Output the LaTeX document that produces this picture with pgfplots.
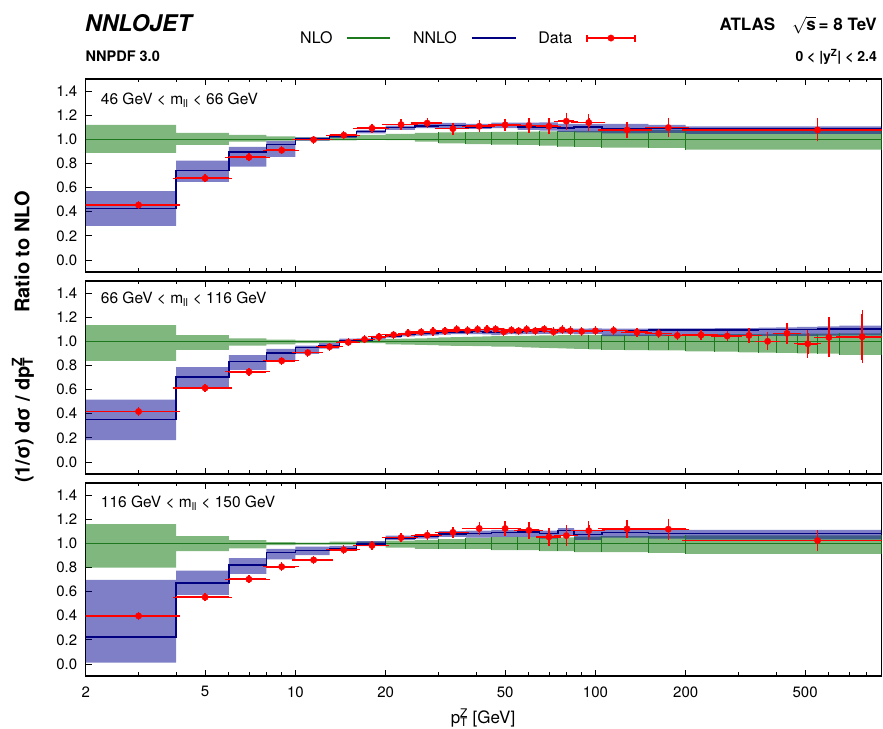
\documentclass[border=0pt]{standalone}
\usepackage{fontspec}
\setmainfont{TeX Gyre Heros}
\usepackage{pgfplots}
\pgfplotsset{compat=1.18}
\usepackage{pgfplotstable}
\usepgfplotslibrary{fillbetween}
\newcommand\fs[1]{\fontsize{#1bp}{#1bp}\selectfont}
\definecolor{nlobase}{RGB}{0,111,0}
\definecolor{nnlobase}{RGB}{0,0,145}
\definecolor{nloline}{RGB}{30,120,30}
\definecolor{nnloline}{RGB}{0,0,128}

\pgfplotstableread{
x nlolo nlohi nnlolo nnlohi nnlo
2 0.887 1.120 0.283 0.571 0.427
4 0.953 1.053 0.648 0.823 0.743
6 0.981 1.037 0.773 0.937 0.893
8 0.990 1.025 0.854 0.987 0.959
10 0.990 1.015 0.990 1.017 1.002
13 0.992 1.020 1.012 1.040 1.026
16 0.997 1.036 1.050 1.078 1.064
20 0.993 1.045 1.078 1.114 1.097
25 0.981 1.053 1.092 1.134 1.111
30 0.967 1.058 1.092 1.136 1.114
37 0.961 1.060 1.086 1.128 1.100
45 0.956 1.062 1.092 1.138 1.114
55 0.953 1.064 1.078 1.138 1.100
65 0.948 1.066 1.072 1.140 1.100
75 0.940 1.067 1.062 1.128 1.095
85 0.938 1.070 1.058 1.128 1.100
105 0.931 1.075 1.050 1.128 1.086
150 0.929 1.078 1.053 1.120 1.092
200 0.915 1.085 1.045 1.108 1.086
900 0.915 1.085 1.045 1.108 1.086
}\topbands
\pgfplotstableread{
x ex y ey
3 1 0.455 0.006
5 1 0.677 0.005
7 1 0.851 0.005
9 1 0.909 0.005
11.5 1.5 0.997 0.005
14.5 1.5 1.034 0.006
18 2 1.092 0.008
22.5 2.5 1.122 0.015
27.5 2.5 1.134 0.012
33.5 3.5 1.088 0.020
41 4 1.108 0.020
50 5 1.120 0.022
60 5 1.115 0.033
70 5 1.108 0.039
80 5 1.150 0.042
95 10 1.139 0.039
127.5 22.5 1.078 0.039
175 25 1.097 0.053
550 350 1.078 0.066
}\topdata

\pgfplotstableread{
x nlolo nlohi nnlolo nnlohi nnlo
2 0.838 1.134 0.181 0.517 0.352
4 0.928 1.052 0.613 0.786 0.706
6 0.964 1.025 0.764 0.885 0.832
8 0.975 1.013 0.846 0.937 0.901
10 0.985 1.008 0.895 0.964 0.947
12 0.988 1.008 0.940 0.985 0.967
14 0.990 1.010 0.992 1.022 1.008
16 0.988 1.012 0.995 1.025 1.010
18 0.985 1.015 1.015 1.045 1.030
20 0.975 1.020 1.030 1.060 1.045
22.5 0.973 1.022 1.040 1.070 1.055
25 0.970 1.025 1.048 1.080 1.065
27.5 0.968 1.028 1.050 1.085 1.068
30 0.965 1.032 1.055 1.090 1.071
33 0.963 1.034 1.060 1.095 1.077
36 0.962 1.036 1.060 1.098 1.079
39 0.960 1.038 1.060 1.100 1.080
42 0.960 1.040 1.058 1.098 1.078
45 0.956 1.042 1.052 1.095 1.072
48 0.956 1.043 1.055 1.095 1.075
51 0.955 1.044 1.060 1.100 1.080
54 0.953 1.045 1.058 1.098 1.078
57 0.950 1.046 1.060 1.100 1.080
61 0.948 1.048 1.060 1.100 1.080
65 0.945 1.049 1.062 1.104 1.083
70 0.943 1.050 1.062 1.104 1.083
75 0.942 1.051 1.063 1.106 1.085
80 0.940 1.052 1.063 1.106 1.085
85 0.937 1.053 1.060 1.105 1.083
95 0.934 1.054 1.062 1.107 1.085
105 0.929 1.055 1.044 1.105 1.090
125 0.927 1.055 1.045 1.106 1.090
150 0.925 1.056 1.046 1.107 1.092
175 0.925 1.056 1.046 1.108 1.093
200 0.917 1.058 1.045 1.108 1.094
250 0.915 1.059 1.046 1.110 1.095
300 0.908 1.060 1.045 1.110 1.095
350 0.907 1.061 1.045 1.113 1.096
400 0.905 1.062 1.046 1.116 1.097
470 0.900 1.063 1.046 1.120 1.098
550 0.898 1.064 1.048 1.124 1.100
650 0.888 1.065 1.050 1.130 1.104
900 0.888 1.065 1.050 1.130 1.104
}\midbands
\pgfplotstableread{
x ex y ey
3 1 0.418 0.005
5 1 0.613 0.005
7 1 0.747 0.005
9 1 0.838 0.005
11 1 0.906 0.005
13 1 0.955 0.005
15 1 0.992 0.005
17 1 1.016 0.005
19 1 1.038 0.005
21.25 1.25 1.054 0.005
23.75 1.25 1.066 0.005
26.25 1.25 1.077 0.005
28.75 1.25 1.082 0.005
31.5 1.5 1.085 0.005
34.5 1.5 1.099 0.005
37.5 1.5 1.090 0.005
40.5 1.5 1.099 0.005
43.5 1.5 1.099 0.005
46.5 1.5 1.101 0.005
49.5 1.5 1.079 0.006
52.5 1.5 1.093 0.006
55.5 1.5 1.087 0.006
59 2 1.099 0.006
63 2 1.087 0.006
67.5 2.5 1.101 0.007
72.5 2.5 1.079 0.007
77.5 2.5 1.096 0.008
82.5 2.5 1.087 0.008
90 5 1.082 0.007
100 5 1.087 0.008
115 10 1.090 0.008
137.5 12.5 1.075 0.010
162.5 12.5 1.065 0.010
187.5 12.5 1.048 0.012
225 25 1.052 0.012
275 25 1.044 0.016
325 25 1.049 0.033
375 25 1.000 0.044
435 35 1.066 0.060
510 40 0.980 0.088
600 50 1.033 0.137
775 125 1.038 0.190
}\middata

\pgfplotstableread{
x nlolo nlohi nnlolo nnlohi nnlo
2 0.798 1.160 0.011 0.696 0.224
4 0.935 1.060 0.572 0.773 0.671
6 0.959 1.027 0.746 0.878 0.820
8 0.985 1.010 0.867 0.953 0.925
10 0.990 1.005 0.903 0.972 0.939
13 0.990 1.015 0.944 0.978 0.958
16 0.985 1.015 0.977 1.018 0.994
20 0.965 1.023 1.029 1.064 1.044
25 0.953 1.028 1.038 1.076 1.056
30 0.953 1.035 1.053 1.102 1.079
37 0.953 1.045 1.047 1.105 1.082
45 0.944 1.053 1.053 1.111 1.088
55 0.944 1.053 1.053 1.117 1.094
65 0.936 1.050 1.038 1.105 1.082
75 0.936 1.050 1.067 1.125 1.105
85 0.927 1.055 1.029 1.111 1.073
105 0.927 1.060 1.047 1.117 1.090
150 0.921 1.062 1.038 1.111 1.082
200 0.912 1.065 1.032 1.111 1.082
900 0.912 1.065 1.032 1.111 1.082
}\botbands
\pgfplotstableread{
x ex y ey
3 1 0.398 0.006
5 1 0.553 0.006
7 1 0.702 0.006
9 1 0.806 0.007
11.5 1.5 0.862 0.007
14.5 1.5 0.946 0.008
18 2 0.982 0.008
22.5 2.5 1.047 0.010
27.5 2.5 1.067 0.012
33.5 3.5 1.091 0.015
41 4 1.123 0.026
50 5 1.123 0.030
60 5 1.108 0.040
70 5 1.053 0.047
80 5 1.064 0.058
95 10 1.105 0.050
127.5 22.5 1.120 0.047
175 25 1.117 0.058
550 350 1.023 0.058
}\botdata

\pgfplotsset{
  every axis/.append style={
    set layers,
    scale only axis, width=796bp, height=193bp,
    xmin=2, xmax=900, ymin=-0.1, ymax=1.5,
    xtick={2,5,10,20,50,100,200,500},
    minor xtick={3,4,6,7,8,9,30,40,60,70,80,90,300,400,600,700,800},
    ytick={0,0.2,0.4,0.6,0.8,1.0,1.2,1.4},
    yticklabels={0.0,0.2,0.4,0.6,0.8,1.0,1.2,1.4},
    tick align=inside, xtick pos=both, ytick pos=left,
    major tick length=6bp, minor tick length=3.5bp,
    tick style={black, line width=0.8bp},
    axis line style={line width=1.2bp},
    ticklabel style={font=\fs{15}},
    yticklabel style={xshift=-5bp},
    xticklabel style={yshift=-7bp},
  },
}

% #1 bands, #2 data, #3 index of first bin edge with visible NLO box edge
\newcommand\drawpanel[3]{%
  \addplot[name path=nu, draw=none, const plot, forget plot] table[x=x, y=nlohi] {#1};
  \addplot[name path=nl, draw=none, const plot, forget plot] table[x=x, y=nlolo] {#1};
  \addplot[nlobase, fill opacity=0.5, draw=none, forget plot] fill between[of=nu and nl];
  \addplot[name path=mu, draw=none, const plot, forget plot] table[x=x, y=nnlohi] {#1};
  \addplot[name path=ml, draw=none, const plot, forget plot] table[x=x, y=nnlolo] {#1};
  \addplot[nnlobase, fill opacity=0.5, draw=none, forget plot] fill between[of=mu and ml];
  \addplot[draw=none, mark=none, forget plot, skip coords between index={0}{#3},
    error bars/.cd, y dir=both, y explicit, error mark=none,
    error bar style={nloline, line width=0.9bp}]
    table[x=x, y expr={(\thisrow{nlolo}+\thisrow{nlohi})/2},
          y error expr={(\thisrow{nlohi}-\thisrow{nlolo})/2}] {#1};
  \addplot[nloline, line width=1.6bp, forget plot] coordinates {(2,1) (900,1)};
  \addplot[nnloline, line width=1.5bp, const plot, forget plot] table[x=x, y=nnlo] {#1};
  \addplot[red, draw=none, mark=none, forget plot,
    error bars/.cd, x dir=both, x explicit,
    error bar style={red, line width=1.6bp},
    error mark options={red, mark size=3.5bp, line width=1.3bp}]
    table[x=x, y=y, x error=ex] {#2};
  \addplot[red, draw=none, mark=none, forget plot,
    error bars/.cd, y dir=both, y explicit,
    error bar style={red, line width=1.6bp},
    error mark options={red, mark size=3.5bp, line width=1.3bp}]
    table[x=x, y=y, y error=ey] {#2};
  \addplot[red, only marks, mark=*, mark size=3.2bp, mark options={fill=red, draw=red}, forget plot]
    table[x=x, y=y] {#2};
}

\begin{document}
\begin{tikzpicture}

\begin{semilogxaxis}[at={(85.7bp,457bp)}, anchor=south west, xticklabels={},
  legend style={at={(0.479,1.212)}, anchor=center, draw=none, fill=none,
    legend columns=3, font=\fs{16},
    /tikz/every odd column/.append style={column sep=12bp},
    /tikz/every even column/.append style={column sep=20bp}},
  legend plot pos=right]
  \drawpanel{\topbands}{\topdata}{9}
  \addlegendimage{/pgfplots/legend image code/.code={\draw[nloline, line width=1.6bp] (0bp,0bp) -- (43bp,0bp);}}
  \addlegendentry{NLO}
  \addlegendimage{/pgfplots/legend image code/.code={\draw[nnloline, line width=1.5bp] (0bp,0bp) -- (44bp,0bp);}}
  \addlegendentry{NNLO}
  \addlegendimage{/pgfplots/legend image code/.code={\draw[red, line width=1.6bp] (0bp,0bp) -- (48bp,0bp);
     \draw[red, line width=1.3bp] (0bp,-3.5bp) -- (0bp,3.5bp);
     \draw[red, line width=1.3bp] (48bp,-3.5bp) -- (48bp,3.5bp);
     \fill[red] (24bp,0bp) circle (3.2bp);}}
  \addlegendentry{Data}
  \node[anchor=west, inner sep=0pt, font=\fs{15.5}] at (rel axis cs:0,1) [xshift=15bp, yshift=-21bp] {46 GeV < m\textsubscript{ll} < 66 GeV};
\end{semilogxaxis}

\begin{semilogxaxis}[at={(85.7bp,255bp)}, anchor=south west, xticklabels={}]
  \drawpanel{\midbands}{\middata}{29}
  \node[anchor=west, inner sep=0pt, font=\fs{15.5}] at (rel axis cs:0,1) [xshift=15bp, yshift=-18bp] {66 GeV < m\textsubscript{ll} < 116 GeV};
\end{semilogxaxis}

\begin{semilogxaxis}[at={(85.7bp,53bp)}, anchor=south west,
  xticklabels={2,5,10,20,50,100,200,500}]
  \drawpanel{\botbands}{\botdata}{9}
  \node[anchor=west, inner sep=0pt, font=\fs{15.5}] at (rel axis cs:0,1) [xshift=15bp, yshift=-20bp] {116 GeV < m\textsubscript{ll} < 150 GeV};
\end{semilogxaxis}

\node[anchor=base west, inner sep=0pt, font=\fs{23}\bfseries\itshape] at (85bp,697.5bp) {NNLOJET};
\node[anchor=base west, inner sep=0pt, font=\fs{14.5}\bfseries] at (85.5bp,667bp) {NNPDF 3.0};
\node[anchor=base east, inner sep=0pt, font=\fs{17}\bfseries] at (877bp,698bp) {ATLAS\quad $\sqrt{\mbox{s}}$\,= 8 TeV};
\node[anchor=base east, inner sep=0pt, font=\fs{14}\bfseries] at (877bp,667.5bp) {0 < \textbar y\textsuperscript{Z}\textbar{} < 2.4};
\node[rotate=90, inner sep=0pt, font=\fs{20}\bfseries] at (22bp,477bp) {Ratio to NLO};
\node[rotate=90, inner sep=0pt, font=\fs{20}\bfseries] at (23bp,309bp) {(1/σ) dσ / dp\rlap{\textsuperscript{Z}}\textsubscript{T}};
\node[inner sep=0pt, font=\fs{17}] at (483bp,11bp) {p\rlap{\textsuperscript{Z}}\textsubscript{T} [GeV]};

\pgfresetboundingbox
\path[use as bounding box] (0bp,0bp) rectangle (883bp,729bp);
\end{tikzpicture}
\end{document}
